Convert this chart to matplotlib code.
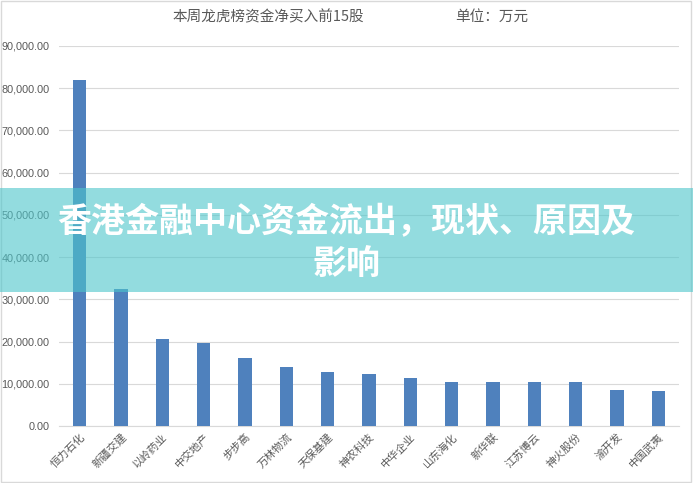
import matplotlib
matplotlib.use("Agg")
import matplotlib.pyplot as plt
from matplotlib.patches import Rectangle
from matplotlib.ticker import FuncFormatter

plt.rcParams['font.family'] = ['Noto Sans CJK SC', 'DejaVu Sans']

# data (万元)
stocks = ["恒力石化", "新疆交建", "以岭药业", "中交地产", "步步高", "万林物流", "天保基建",
          "神农科技", "中华企业", "山东海化", "新华联", "江苏博云", "神火股份", "渝开发", "中国武夷"]
net_buy = [82000, 32400, 20700, 19700, 16000, 14000, 12700,
           12300, 11400, 10500, 10500, 10350, 10350, 8450, 8200]
y_ticks = [0, 10000, 20000, 30000, 40000, 50000, 60000, 70000, 80000, 90000]

fig = plt.figure(figsize=(6.93, 4.83), dpi=100)
ax = fig.add_axes([59 / 693, 1 - 426 / 483, 620 / 693, 380 / 483])

x = range(len(stocks))
ax.bar(x, net_buy, width=0.32, color="#4F81BD", zorder=3)

ax.set_xlim(-0.5, len(stocks) - 0.5)
ax.set_ylim(0, 90000)
ax.set_yticks(y_ticks)
ax.yaxis.set_major_formatter(FuncFormatter(lambda v, p: f"{v:,.2f}"))
ax.grid(axis="y", color="#D9D9D9", linewidth=0.8, zorder=0)
for s in ["top", "right", "left"]:
    ax.spines[s].set_visible(False)
ax.spines["bottom"].set_color("#D9D9D9")
ax.tick_params(axis="both", length=0, colors="#595959")
for lab in ax.get_yticklabels():
    lab.set_family(["Liberation Sans", "DejaVu Sans"])
    lab.set_fontsize(7.8)
ax.tick_params(axis="y", pad=7)

ax.set_xticks(list(x))
ax.set_xticklabels(stocks, rotation=45, ha="right", rotation_mode="anchor",
                   fontsize=7.8, color="#595959")
ax.tick_params(axis="x", pad=4)

# title
fig.text(268 / 693, 1 - 17 / 483, "本周龙虎榜资金净买入前15股", ha="center", va="center",
         fontsize=10.5, color="#595959")
fig.text(492 / 693, 1 - 17 / 483, "单位：万元", ha="center", va="center",
         fontsize=10.5, color="#595959")

# chart border
fig.patches.append(Rectangle((0.002, 0.003), 0.995, 0.994, transform=fig.transFigure,
                             fill=False, edgecolor="#D9D9D9", linewidth=1))

# overlay banner
fig.patches.append(Rectangle((0, 1 - 292 / 483), 1, 104 / 483, transform=fig.transFigure,
                             facecolor="#4CC6CB", alpha=0.6, edgecolor="none", zorder=5))
fig.text(0.5, 1 - 222 / 483, "香港金融中心资金流出，现状、原因及", ha="center", va="center",
         fontsize=24.5, fontweight="heavy", color="white", zorder=6)
fig.text(0.5, 1 - 263 / 483, "影响", ha="center", va="center",
         fontsize=24.5, fontweight="heavy", color="white", zorder=6)

plt.savefig("out.png", dpi=100)
